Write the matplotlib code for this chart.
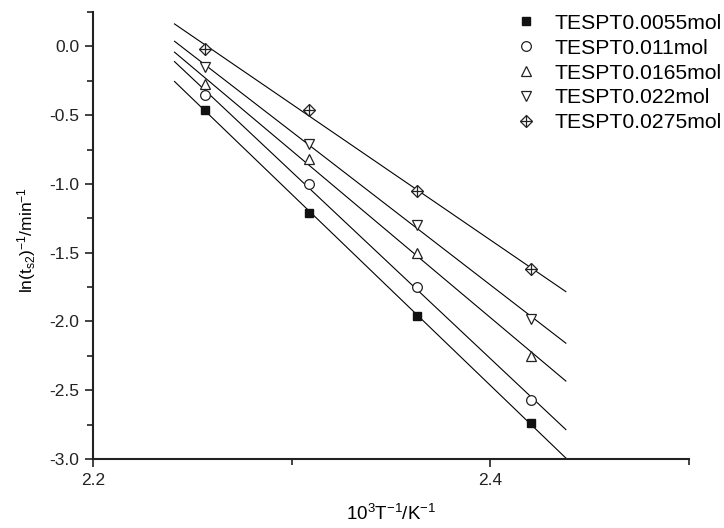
import numpy as np
import matplotlib.pyplot as plt
from matplotlib.ticker import MultipleLocator, FormatStrFormatter

plt.rcParams['font.family'] = ['Liberation Sans', 'DejaVu Sans']
plt.rcParams['mathtext.fontset'] = 'custom'
plt.rcParams['mathtext.rm'] = 'Liberation Sans'
plt.rcParams['mathtext.it'] = 'Liberation Sans'

# 1000/T for 170, 160, 150, 140 C
inv_T = [2.2566, 2.3087, 2.3632, 2.4204]

ln_ts2_0055 = [-0.46, -1.21, -1.96, -2.74]
ln_ts2_011 = [-0.35, -1.00, -1.75, -2.57]
ln_ts2_0165 = [-0.27, -0.82, -1.50, -2.25]
ln_ts2_022 = [-0.15, -0.71, -1.30, -1.98]
ln_ts2_0275 = [-0.02, -0.46, -1.05, -1.62]

labels = ["TESPT0.0055mol", "TESPT0.011mol", "TESPT0.0165mol",
          "TESPT0.022mol", "TESPT0.0275mol"]
fit_range = [2.241, 2.438]

fig = plt.figure(figsize=(7.24, 5.28), dpi=100)
ax = fig.add_axes([0.1285, 0.1307, 0.8232, 0.8466])

series = [ln_ts2_0055, ln_ts2_011, ln_ts2_0165, ln_ts2_022, ln_ts2_0275]
markers = ['s', 'o', '^', 'v', 'D']
handles = []
xf = np.array(fit_range)
for ys, m, lab in zip(series, markers, labels):
    k, b = np.polyfit(inv_T, ys, 1)
    ax.plot(xf, k * xf + b, color='black', lw=0.8, zorder=1)
    if m == 's':
        h, = ax.plot(inv_T, ys, ls='none', marker='s', ms=6, mfc='#111111',
                     mec='#111111', zorder=3)
        handles.append(h)
    elif m == 'D':
        h1, = ax.plot(inv_T, ys, ls='none', marker='D', ms=6, mfc='white',
                      mec='#222222', mew=0.9, zorder=3)
        h2, = ax.plot(inv_T, ys, ls='none', marker='+', ms=8, mec='#222222',
                      mew=0.9, zorder=4)
        handles.append((h1, h2))
    else:
        h, = ax.plot(inv_T, ys, ls='none', marker=m, ms=7, mfc='white',
                     mec='#222222', mew=0.9, zorder=3)
        handles.append(h)

ax.legend(handles, labels, loc='upper right', bbox_to_anchor=(1.069, 1.015),
          frameon=False, fontsize=15.2, handlelength=1.0, handletextpad=0.85,
          labelspacing=0.28, borderaxespad=0.0)

ax.set_xlim(2.2, 2.5)
ax.set_ylim(-3.0, 0.25)
ax.xaxis.set_major_locator(MultipleLocator(0.2))
ax.xaxis.set_minor_locator(MultipleLocator(0.1))
ax.yaxis.set_major_locator(MultipleLocator(0.5))
ax.yaxis.set_minor_locator(MultipleLocator(0.25))
ax.xaxis.set_major_formatter(FormatStrFormatter('%.1f'))
ax.yaxis.set_major_formatter(FormatStrFormatter('%.1f'))

for s in ['top', 'right']:
    ax.spines[s].set_visible(False)
for s in ['left', 'bottom']:
    ax.spines[s].set_linewidth(1.5)
    ax.spines[s].set_color('#222222')

ax.tick_params(which='major', direction='out', length=6, width=1.2,
               labelsize=12.5, colors='#222222', pad=4)
ax.tick_params(which='minor', direction='out', length=4, width=1.2,
               colors='#222222')

ax.set_xlabel(r'10$^{3}$T$^{-1}$/K$^{-1}$', fontsize=13.5, va='center')
ax.set_ylabel(r'ln(t$_{s2}$)$^{-1}$/min$^{-1}$', fontsize=12.5, va='center')
ax.xaxis.set_label_coords(0.5, -0.123)
ax.yaxis.set_label_coords(-0.112, 0.49)

fig.savefig('out.png', dpi=100)
